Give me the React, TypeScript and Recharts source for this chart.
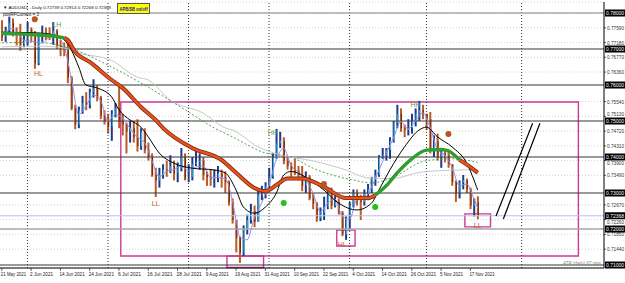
import {
  Bar,
  CartesianGrid,
  ComposedChart,
  Line,
  ReferenceArea,
  ReferenceDot,
  ReferenceLine,
  XAxis,
  YAxis,
} from "recharts"

// AUDUSD daily bars 21 May 2021 .. 19 Nov 2021, in pips (1 = 0.0001)
const opens = [
  7745, 7733, 7752, 7773, 7747, 7740, 7712, 7725, 7755, 7745,
  7660, 7740, 7745, 7742, 7738, 7750, 7710, 7705, 7698, 7620,
  7535, 7490, 7530, 7550, 7545, 7580, 7590, 7565, 7515, 7500,
  7485, 7520, 7535, 7500, 7490, 7470, 7480, 7455, 7430, 7470,
  7420, 7400, 7350, 7335, 7350, 7365, 7362, 7375, 7355, 7370,
  7400, 7340, 7345, 7380, 7385, 7390, 7350, 7345, 7340, 7345,
  7355, 7345, 7330, 7275, 7225, 7175, 7135, 7200, 7225, 7250,
  7220, 7295, 7305, 7320, 7345, 7400, 7438, 7445, 7390, 7375,
  7365, 7360, 7350, 7320, 7345, 7285, 7270, 7230, 7245, 7260,
  7310, 7265, 7275, 7245, 7185, 7230, 7265, 7300, 7280, 7275,
  7300, 7310, 7340, 7350, 7400, 7405, 7420, 7445, 7495, 7520,
  7480, 7475, 7480, 7500, 7520, 7530, 7520, 7505, 7420, 7445,
  7400, 7410, 7405, 7380, 7330, 7300, 7330, 7335, 7310, 7265,
  7274,
]
const highs = [
  7780, 7762, 7790, 7785, 7760, 7770, 7740, 7775, 7760, 7750,
  7745, 7765, 7760, 7760, 7775, 7755, 7725, 7718, 7715, 7625,
  7545, 7540, 7570, 7580, 7590, 7616, 7600, 7570, 7530, 7520,
  7530, 7550, 7599, 7520, 7495, 7500, 7500, 7505, 7480, 7480,
  7440, 7410, 7370, 7370, 7380, 7390, 7405, 7390, 7385, 7425,
  7410, 7380, 7400, 7425, 7410, 7400, 7360, 7365, 7365, 7375,
  7365, 7360, 7335, 7285, 7225, 7180, 7210, 7240, 7270, 7265,
  7310, 7320, 7330, 7370, 7410, 7478, 7470, 7455, 7400, 7385,
  7395, 7375, 7375, 7360, 7350, 7300, 7275, 7260, 7290, 7315,
  7315, 7300, 7285, 7250, 7235, 7275, 7310, 7310, 7295, 7310,
  7325, 7345, 7365, 7405, 7425, 7425, 7455, 7500, 7545, 7535,
  7490, 7505, 7520, 7535, 7556, 7545, 7520, 7525, 7460, 7465,
  7425, 7420, 7415, 7380, 7335, 7335, 7350, 7340, 7315, 7285,
  7291,
]
const lows = [
  7722, 7720, 7740, 7735, 7710, 7695, 7705, 7710, 7720, 7645,
  7655, 7720, 7725, 7725, 7712, 7700, 7680, 7680, 7605, 7530,
  7477, 7480, 7520, 7530, 7535, 7565, 7555, 7505, 7490, 7465,
  7445, 7510, 7480, 7460, 7410, 7440, 7440, 7415, 7420, 7410,
  7390, 7345, 7289, 7315, 7340, 7345, 7355, 7335, 7330, 7360,
  7335, 7330, 7335, 7375, 7365, 7335, 7320, 7320, 7315, 7330,
  7315, 7300, 7265, 7215, 7135, 7106, 7125, 7185, 7215, 7205,
  7220, 7280, 7285, 7310, 7340, 7395, 7425, 7380, 7365, 7345,
  7350, 7335, 7305, 7300, 7280, 7255, 7220, 7222, 7225, 7255,
  7255, 7260, 7240, 7180, 7170, 7200, 7260, 7265, 7225, 7265,
  7280, 7300, 7320, 7345, 7395, 7390, 7395, 7440, 7480, 7470,
  7455, 7460, 7465, 7485, 7500, 7505, 7475, 7410, 7400, 7390,
  7370, 7385, 7370, 7320, 7275, 7285, 7310, 7300, 7255, 7235,
  7227,
]
const closes = [
  7733, 7752, 7773, 7747, 7740, 7712, 7725, 7755, 7745, 7660,
  7740, 7745, 7742, 7738, 7750, 7710, 7705, 7698, 7620, 7535,
  7490, 7530, 7550, 7545, 7580, 7590, 7565, 7515, 7500, 7485,
  7520, 7535, 7500, 7490, 7470, 7480, 7455, 7430, 7470, 7420,
  7400, 7350, 7335, 7350, 7365, 7362, 7375, 7355, 7370, 7400,
  7340, 7345, 7380, 7385, 7390, 7350, 7345, 7340, 7345, 7355,
  7345, 7330, 7275, 7225, 7175, 7135, 7200, 7225, 7250, 7220,
  7295, 7305, 7320, 7345, 7400, 7438, 7445, 7390, 7375, 7365,
  7360, 7350, 7320, 7345, 7285, 7270, 7230, 7245, 7260, 7310,
  7265, 7275, 7245, 7185, 7230, 7265, 7300, 7280, 7275, 7300,
  7310, 7340, 7350, 7400, 7405, 7420, 7445, 7495, 7520, 7480,
  7475, 7480, 7500, 7520, 7530, 7520, 7505, 7420, 7445, 7400,
  7410, 7405, 7380, 7330, 7300, 7330, 7335, 7310, 7265, 7274,
  7237,
]
const futureBars = 34

// one label every 8 bars
const dateLabels = [
  "21 May 2021", "2 Jun 2021", "14 Jun 2021", "24 Jun 2021", "6 Jul 2021",
  "16 Jul 2021", "28 Jul 2021", "9 Aug 2021", "19 Aug 2021", "31 Aug 2021",
  "10 Sep 2021", "22 Sep 2021", "4 Oct 2021", "14 Oct 2021", "26 Oct 2021",
  "5 Nov 2021", "17 Nov 2021",
]
const monthStarts = [7, 29, 51, 73, 95, 116, 142]

const priceLabels = [
  0.7759, 0.7718, 0.7677, 0.7636, 0.7554, 0.7513, 0.7472, 0.7431, 0.739,
  0.7349, 0.7267, 0.7226, 0.7185, 0.7144,
]
const boxedPrices = [0.78, 0.77, 0.76, 0.75, 0.74, 0.73, 0.72368, 0.72, 0.71]
const levels = [0.78, 0.77, 0.76, 0.75, 0.74, 0.73, 0.72, 0.71]
const lastPrice = 0.72368

// indicator lines: [bar, price]
const trendUpA: [number, number][] = [
  [0, 0.7744], [5, 0.7742], [10, 0.7739], [14, 0.7736], [17, 0.7731],
]
const trendDownA: [number, number][] = [
  [17, 0.7731], [18, 0.7725], [20, 0.7692], [24, 0.7664], [30, 0.7614],
  [33, 0.7592], [38, 0.7539], [42, 0.7503], [44, 0.7481], [52, 0.7425],
  [60, 0.7392], [64, 0.7356], [69, 0.7314], [72, 0.7305], [75, 0.7322],
  [78, 0.734], [82, 0.734], [88, 0.7317], [94, 0.7286], [100, 0.7286],
  [102, 0.7294],
]
const trendUpB: [number, number][] = [
  [102, 0.7294], [105, 0.732], [108, 0.7356], [112, 0.7395], [116, 0.7419],
  [120, 0.7421], [122, 0.7417], [125, 0.7392],
]
const trendDownB: [number, number][] = [[125, 0.7392], [128, 0.7372], [130, 0.7356]]
const fastMa: [number, number][] = [
  [0, 0.7747], [5, 0.7746], [11, 0.7744], [16, 0.7733], [19, 0.7697],
  [21, 0.765], [23, 0.76], [26, 0.7592], [30, 0.7567], [32, 0.7531],
  [35, 0.7503], [38, 0.7483], [40, 0.7456], [43, 0.7411], [47, 0.7383],
  [52, 0.7369], [58, 0.7364], [61, 0.7356], [64, 0.7308], [66, 0.7261],
  [69, 0.7244], [72, 0.7261], [75, 0.73], [77, 0.735], [79, 0.736],
  [83, 0.7344], [88, 0.7308], [92, 0.7272], [97, 0.7253], [101, 0.7272],
  [103, 0.7308], [106, 0.7364], [110, 0.7428], [114, 0.7475], [116, 0.7483],
  [119, 0.7456], [123, 0.7428], [127, 0.7383], [130, 0.7308],
]
const signalMa: [number, number][] = [
  [0, 0.774], [3, 0.7757], [6, 0.7725], [9, 0.772], [11, 0.7716], [14, 0.7743],
  [17, 0.7706], [19, 0.7618], [21, 0.7518], [23, 0.7542], [25, 0.7572],
  [27, 0.7557], [29, 0.75], [31, 0.7518], [33, 0.7508], [35, 0.748],
  [37, 0.7455], [39, 0.744], [41, 0.739], [43, 0.7345], [45, 0.736],
  [47, 0.7365], [49, 0.7375], [51, 0.7362], [53, 0.7372], [55, 0.7375],
  [57, 0.7343], [59, 0.7343], [61, 0.734], [63, 0.7277], [64, 0.7225],
  [65, 0.7178], [67, 0.717], [69, 0.7232], [71, 0.7273], [73, 0.7323],
  [75, 0.7394], [77, 0.7424], [79, 0.7377], [81, 0.7358], [83, 0.7338],
  [85, 0.73], [87, 0.7248], [89, 0.7272], [91, 0.7283], [93, 0.7235],
  [95, 0.7227], [97, 0.7282], [99, 0.7285], [101, 0.7317], [103, 0.7363],
  [105, 0.741], [107, 0.7453], [109, 0.7498], [111, 0.7478], [113, 0.75],
  [115, 0.7523], [117, 0.7482], [119, 0.7422], [121, 0.7405], [123, 0.7372],
  [125, 0.732], [127, 0.7325], [129, 0.7283], [130, 0.7258],
]
const slowMa: [number, number][] = [
  [0, 0.7717], [9, 0.7719], [20, 0.7697], [30, 0.765], [40, 0.7594],
  [51, 0.7525], [58, 0.7481], [63, 0.7456], [72, 0.7411], [79, 0.74],
  [85, 0.7369], [96, 0.7336], [101, 0.7328], [106, 0.734], [116, 0.739],
  [123, 0.7395], [130, 0.7385],
]
const longMa: [number, number][] = [
  [0, 0.7706], [10, 0.7708], [17, 0.7703], [21, 0.7689], [30, 0.7668],
  [37, 0.7622], [40, 0.7614], [46, 0.7558], [55, 0.7522], [61, 0.7481],
  [63, 0.7475], [70, 0.7428], [76, 0.7406], [85, 0.7389], [94, 0.7364],
  [100, 0.7342], [106, 0.734], [116, 0.736], [130, 0.7365],
]

// swing labels and signal dots: [bar, price, text]
const swingLabels: [number, number, string][] = [
  [10, 0.7633, "HL"], [15, 0.7767, "LH"], [42, 0.7272, "LL"], [74, 0.7467, "HH"],
  [93, 0.7158, "HL"], [113, 0.7547, "HH"], [130, 0.7211, "LL"],
]
const brownDots: [number, number][] = [[9, 0.7783], [88, 0.7325], [122, 0.7464]]
const greenDots: [number, number][] = [[77, 0.7272], [102, 0.7261]]

// drawn objects: [bar1, bar2, price1, price2]
const boxes: [number, number, number, number][] = [
  [33, 157, 0.7553, 0.7125],
  [62, 71, 0.7125, 0.7093],
  [92, 96, 0.7197, 0.7153],
  [127, 133, 0.7242, 0.7206],
]
const trendLines: [number, number, number, number][] = [
  [135, 145, 0.7236, 0.7494],
  [137, 147, 0.7228, 0.7494],
]

type Row = { i: number; [k: string]: number | undefined }
const rows: Row[] = Array.from({ length: opens.length + futureBars }, (_, i) =>
  i < opens.length
    ? { i, o: opens[i] / 1e4, h: highs[i] / 1e4, l: lows[i] / 1e4, c: closes[i] / 1e4 }
    : { i },
)
const put = (key: string, pts: [number, number][]) =>
  pts.forEach(([i, v]) => (rows[i][key] = v))
put("upA", trendUpA)
put("downA", trendDownA)
put("upB", trendUpB)
put("downB", trendDownB)
put("fast", fastMa)
put("sig", signalMa)
put("slow", slowMa)
put("long", longMa)

const FONT = "Liberation Sans, Arial, sans-serif"

function OhlcBar(props: any) {
  const { x, y, width, height, payload } = props
  if (payload.h == null) return null
  const top = Math.min(y, y + height)
  const span = Math.abs(height)
  const k = span / (payload.h - payload.l || 1)
  const py = (v: number) => top + (payload.h - v) * k
  const cx = x + width / 2
  const up = payload.c >= payload.o
  const yo = py(payload.o)
  const yc = py(payload.c)
  return (
    <g>
      <rect x={cx - 1} y={top} width={2} height={Math.max(span, 1)} fill={up ? "#1f3a8a" : "#bb5c26"} />
      <rect
        x={cx}
        y={Math.min(yo, yc)}
        width={1}
        height={Math.max(Math.abs(yo - yc), 1)}
        fill={up ? "#35c4dc" : "#6e2a0e"}
      />
    </g>
  )
}

function PriceTick(props: any) {
  const { x, y, payload } = props
  const v = payload.value as number
  const label = v.toFixed(5)
  if (boxedPrices.includes(v)) {
    return (
      <g>
        <rect x={x - 1} y={y - 3.5} width={21} height={7} fill="#000" />
        <text x={x} y={y + 2} fontSize={5} fill="#fff" fontFamily={FONT} textLength={18} lengthAdjust="spacingAndGlyphs">
          {label}
        </text>
      </g>
    )
  }
  // nudge a label away from a boxed level sitting right next to it
  const near = boxedPrices.find((b) => Math.abs(b - v) < 0.0013)
  const dy = near == null ? 0 : near > v ? 2 : -2
  return (
    <g>
      <line x1={x - 2} x2={x} y1={y} y2={y} stroke="#000" strokeWidth={0.6} />
      <text x={x + 1} y={y + 2 + dy} fontSize={5} fill="#333" fontFamily={FONT} textLength={17} lengthAdjust="spacingAndGlyphs">
        {label}
      </text>
    </g>
  )
}

function DateTick(props: any) {
  const { x, y, payload } = props
  const label = dateLabels[payload.value / 8]
  return (
    <g>
      <line x1={x} x2={x} y1={y} y2={y + 3} stroke="#000" strokeWidth={0.6} />
      <text
        x={x - 1}
        y={y + 8}
        fontSize={5}
        fill="#222"
        fontFamily={FONT}
        textLength={label.length * 2.3}
        lengthAdjust="spacingAndGlyphs"
      >
        {label}
      </text>
    </g>
  )
}

export default function App() {
  return (
    <div style={{ position: "absolute", left: 0, top: 0, width: 625, height: 283, background: "#fff" }}>
      <ComposedChart
        width={625}
        height={283}
        data={rows}
        margin={{ top: 2, right: 0, bottom: 0, left: 0 }}
      >
        <CartesianGrid vertical={false} stroke="#d4d4d4" strokeDasharray="1 2" />
        <XAxis
          dataKey="i"
          type="category"
          ticks={dateLabels.map((_, k) => k * 8)}
          interval={0}
          height={15}
          tickSize={0}
          tickMargin={0}
          tick={<DateTick />}
          axisLine={{ stroke: "#000" }}
        />
        <YAxis
          orientation="right"
          domain={[0.70917, 0.78306]}
          allowDataOverflow
          ticks={[...priceLabels, ...boxedPrices]}
          interval={0}
          width={21}
          tickSize={0}
          tickMargin={2}
          tick={<PriceTick />}
          axisLine={{ stroke: "#000" }}
        />
        {monthStarts.map((m) => (
          <ReferenceLine key={"m" + m} x={m} stroke="#333" strokeDasharray="1 2" />
        ))}
        {levels.map((p) => (
          <ReferenceLine
            key={"l" + p}
            y={p}
            stroke={p === 0.78 || p === 0.72 ? "#a8a8a8" : "#3c3c3c"}
            strokeWidth={p === 0.78 || p === 0.72 ? 1.5 : 1}
          />
        ))}
        <ReferenceLine y={lastPrice} stroke="#c4c4e8" />
        {boxes.map(([x1, x2, y1, y2], k) => (
          <ReferenceArea
            key={"b" + k}
            x1={x1}
            x2={x2}
            y1={y1}
            y2={y2}
            fill="none"
            fillOpacity={0}
            stroke="#cc3a92"
            strokeWidth={1.4}
            ifOverflow="visible"
          />
        ))}
        <Line dataKey="long" stroke="#c8c8c8" strokeWidth={1} dot={false} connectNulls type="monotone" isAnimationActive={false} />
        <Line dataKey="slow" stroke="#3f9a3f" strokeWidth={0.9} strokeDasharray="2 2" dot={false} connectNulls type="monotone" isAnimationActive={false} />
        <Bar dataKey={(d: Row) => (d.h == null ? null : [d.l, d.h])} barSize={2} shape={<OhlcBar />} isAnimationActive={false} />
        <Line dataKey="sig" stroke="#9a88e8" strokeWidth={1} dot={false} connectNulls type="monotone" isAnimationActive={false} />
        <Line dataKey="fast" stroke="#000" strokeWidth={1} dot={false} connectNulls type="monotone" isAnimationActive={false} />
        <Line dataKey="downA" stroke="#7a2a10" strokeWidth={4} dot={false} connectNulls type="monotone" isAnimationActive={false} />
        <Line dataKey="downA" stroke="#e8531d" strokeWidth={2.4} dot={false} connectNulls type="monotone" isAnimationActive={false} />
        <Line dataKey="downB" stroke="#7a2a10" strokeWidth={4} dot={false} connectNulls type="monotone" isAnimationActive={false} />
        <Line dataKey="downB" stroke="#e8531d" strokeWidth={2.4} dot={false} connectNulls type="monotone" isAnimationActive={false} />
        <Line dataKey="upA" stroke="#2f9e2f" strokeWidth={3.4} dot={false} connectNulls type="monotone" isAnimationActive={false} />
        <Line dataKey="upB" stroke="#2f9e2f" strokeWidth={3.4} dot={false} connectNulls type="monotone" isAnimationActive={false} />
        {trendLines.map(([x1, x2, y1, y2], k) => (
          <ReferenceLine
            key={"t" + k}
            segment={[{ x: x1, y: y1 }, { x: x2, y: y2 }]}
            stroke="#000"
            strokeWidth={1.2}
          />
        ))}
        {brownDots.map(([x, y], k) => (
          <ReferenceDot key={"bd" + k} x={x} y={y} r={3} fill="#b4561e" stroke="none" />
        ))}
        {greenDots.map(([x, y], k) => (
          <ReferenceDot key={"gd" + k} x={x} y={y} r={3} fill="#22c022" stroke="none" />
        ))}
        {swingLabels.map(([x, y, t], k) => (
          <ReferenceDot
            key={"s" + k}
            x={x}
            y={y}
            r={0}
            shape={(p: any) => (
              <text
                x={p.cx}
                y={p.cy + 2.5}
                textAnchor="middle"
                fontSize={7}
                fontFamily={FONT}
                fill={t === "HH" || t === "LH" ? "#5aa05a" : "#c0643a"}
              >
                {t}
              </text>
            )}
          />
        ))}
      </ComposedChart>
      <svg width={625} height={20} style={{ position: "absolute", left: 0, top: 0, pointerEvents: "none" }}>
        <text x={3} y={9} fontSize={4.4} fontFamily={FONT} fill="#111" textLength={108} lengthAdjust="spacingAndGlyphs">
          ▼ AUDUSD,...Daily  0.72739 0.72914 0.72268 0.72368
        </text>
        <text x={3} y={16} fontSize={5} fontFamily={FONT} fill="#111" textLength={36} lengthAdjust="spacingAndGlyphs">
          posRFCurrent = 3
        </text>
        <rect x={117.5} y={3.5} width={32} height={10} fill="#ffff00" stroke="#555" strokeWidth={1} />
        <text
          x={133.5}
          y={10.6}
          textAnchor="middle"
          fontSize={5}
          fontWeight="bold"
          fontFamily={FONT}
          fill="#1010c0"
          textLength={28}
          lengthAdjust="spacingAndGlyphs"
        >
          APB/SB on/off
        </text>
      </svg>
      <svg width={625} height={283} style={{ position: "absolute", left: 0, top: 0, pointerEvents: "none" }}>
        <text x={601} y={265} textAnchor="end" fontSize={5} fontFamily={FONT} fill="#888" textLength={38} lengthAdjust="spacingAndGlyphs">
          ATR (daily) 67 pips
        </text>
      </svg>
    </div>
  )
}
